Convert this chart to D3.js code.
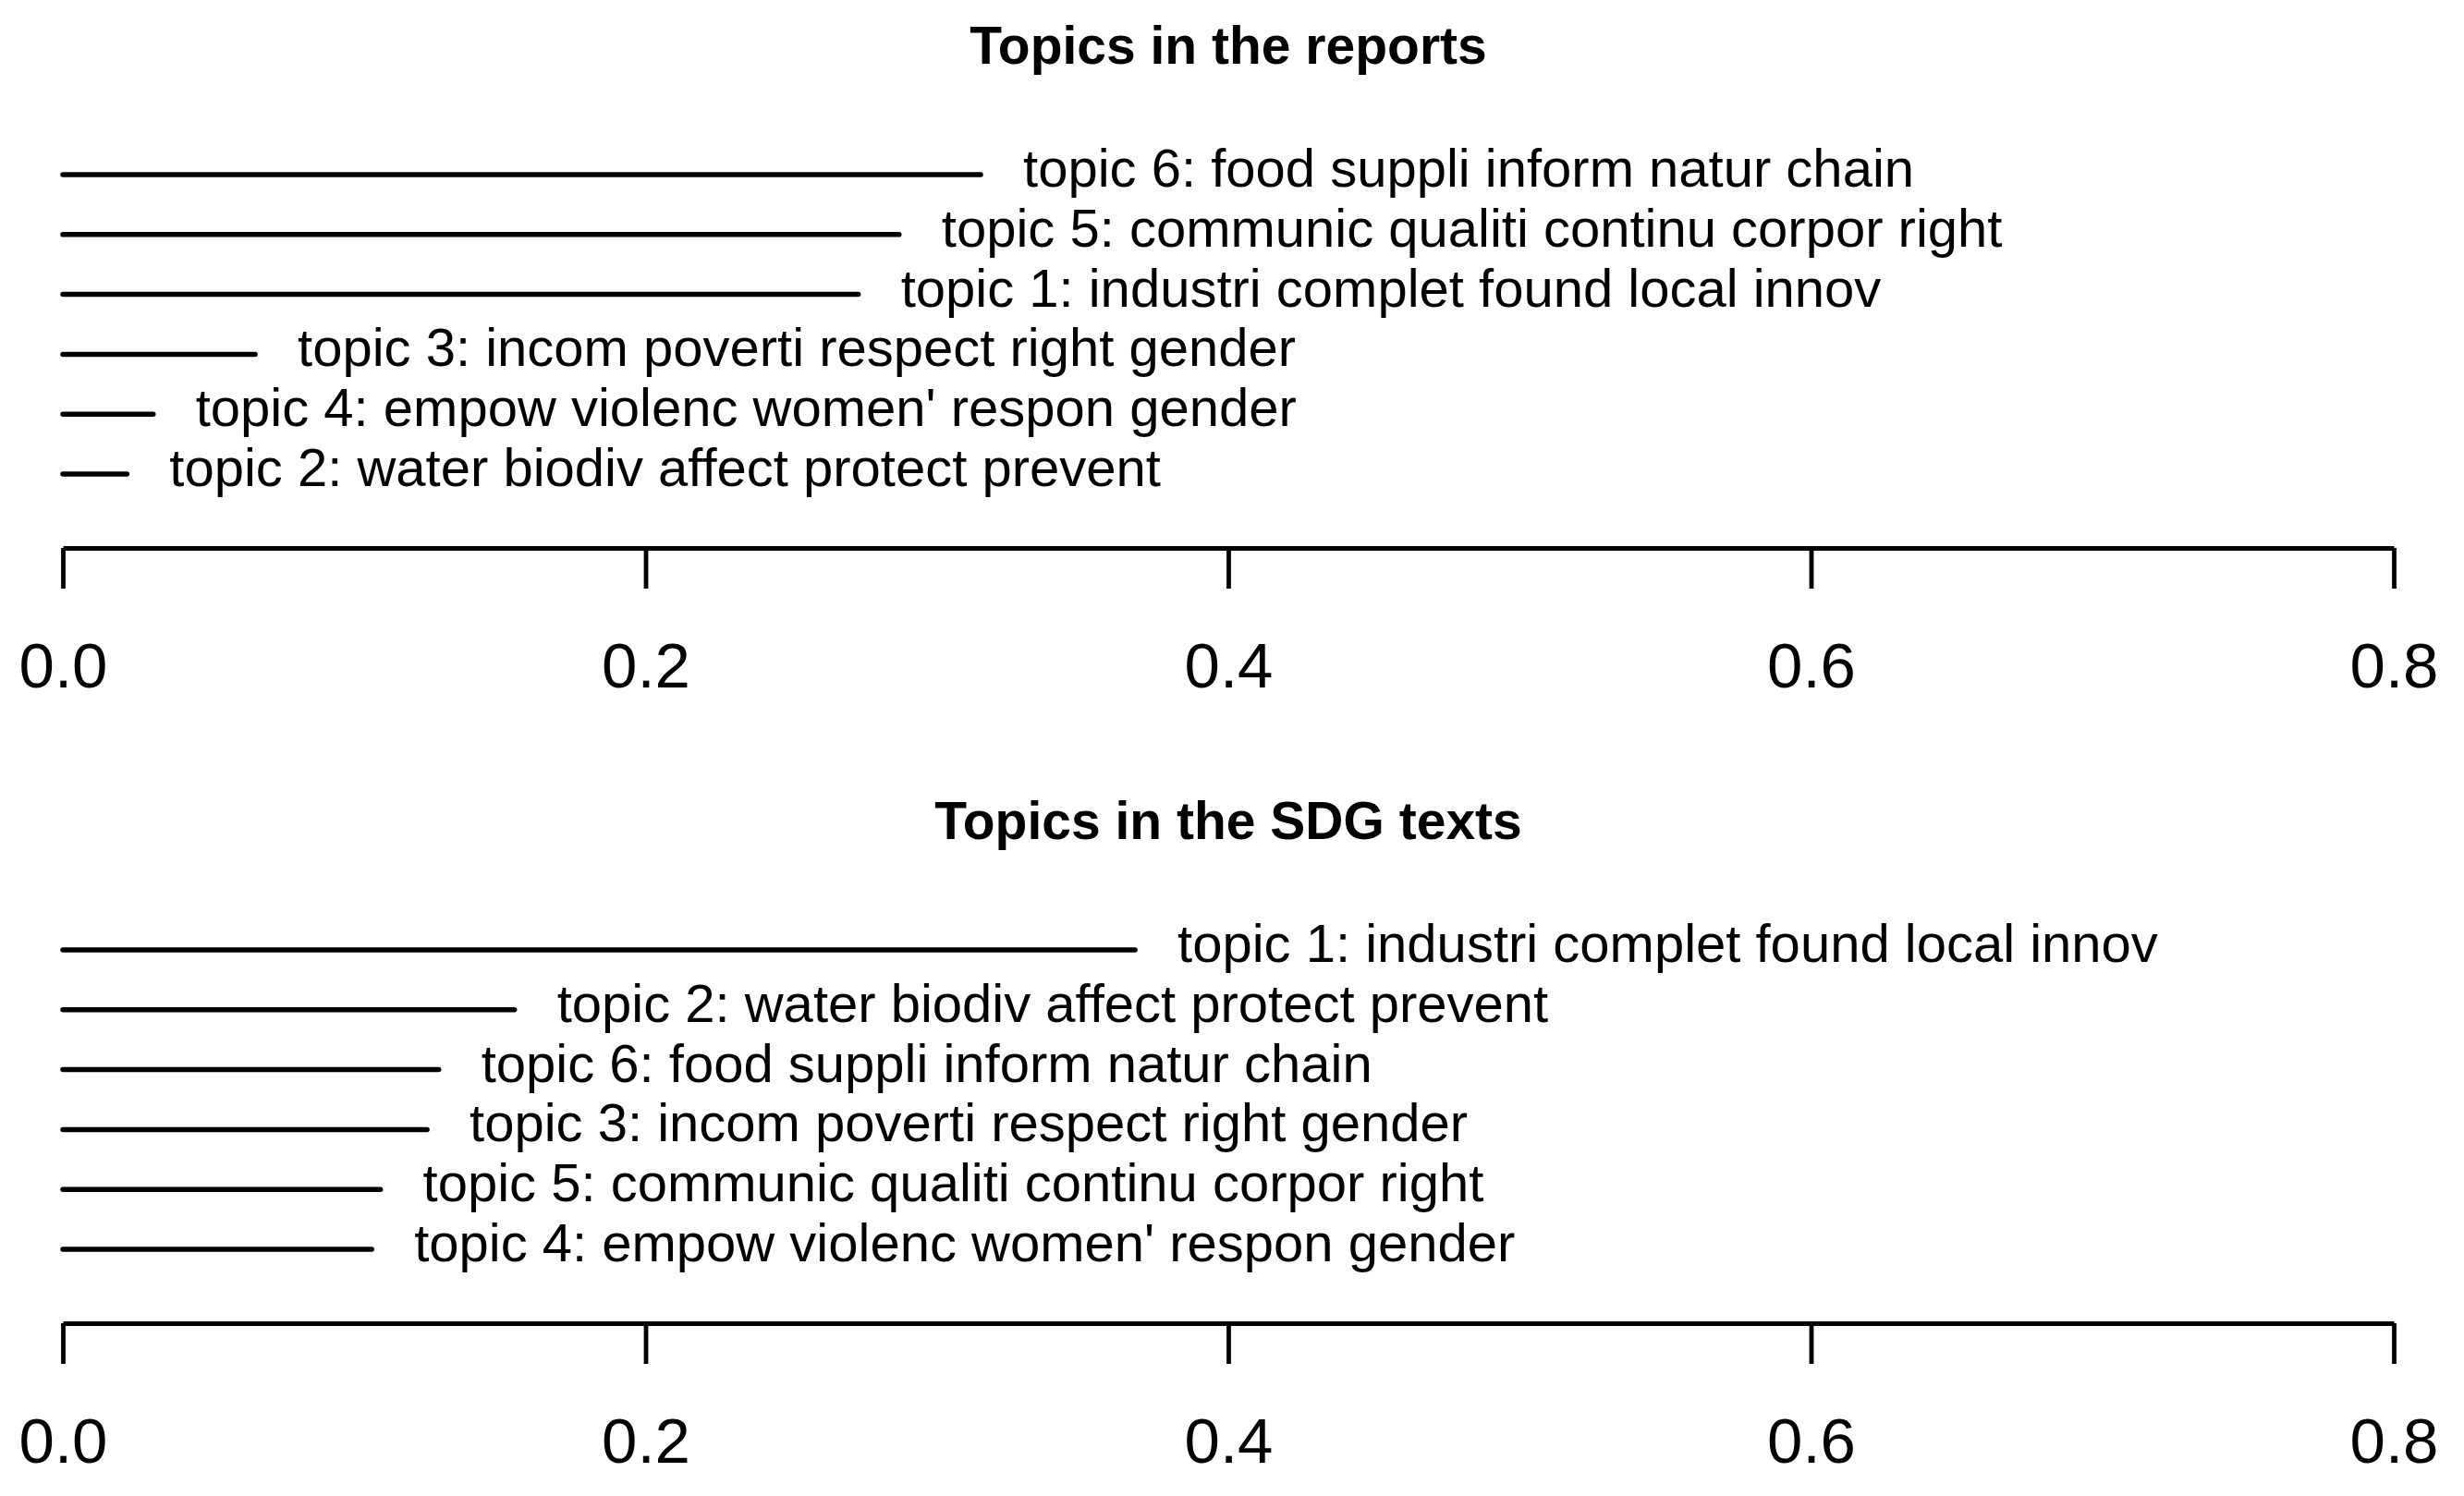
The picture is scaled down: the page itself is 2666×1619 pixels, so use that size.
<!DOCTYPE html>
<meta charset="utf-8">
<style>
body { margin: 0; background: #fff; }
svg text { font-family: "Liberation Sans", Arial, sans-serif; fill: #000; }
.axis path, .axis line { stroke: #000; stroke-width: 4.8px; fill: none; }
.axis text { font-size: 69px; }
.seg { stroke: #000; stroke-width: 5.5px; stroke-linecap: round; }
.lab { font-size: 58px; }
.title { font-size: 57px; font-weight: bold; }
</style>
<body>
<div id="chart"></div>
<script src="https://d3js.org/d3.v7.min.js"></script>
<script>

// topic proportions (sorted as plotted, top to bottom)
var reportTopics = ["topic 6: food suppli inform natur chain",
                    "topic 5: communic qualiti continu corpor right",
                    "topic 1: industri complet found local innov",
                    "topic 3: incom poverti respect right gender",
                    "topic 4: empow violenc women' respon gender",
                    "topic 2: water biodiv affect protect prevent"];
var reportValues = [0.315, 0.287, 0.273, 0.066, 0.031, 0.022];

var sdgTopics = ["topic 1: industri complet found local innov",
                 "topic 2: water biodiv affect protect prevent",
                 "topic 6: food suppli inform natur chain",
                 "topic 3: incom poverti respect right gender",
                 "topic 5: communic qualiti continu corpor right",
                 "topic 4: empow violenc women' respon gender"];
var sdgValues = [0.368, 0.155, 0.129, 0.125, 0.109, 0.106];

var titles = ["Topics in the reports", "Topics in the SDG texts"];
var xTicks = [0, 0.2, 0.4, 0.6, 0.8];

var width = 2666, height = 1619;

var svg = d3.select("#chart").append("svg")
    .attr("width", width)
    .attr("height", height);

var x = d3.scaleLinear()
    .domain([0, 0.8])
    .range([68, 2590]);

function panel(top, topics, values, title) {
    var g = svg.append("g").attr("transform", "translate(0," + top + ")");

    var y = d3.scalePoint()
        .domain(topics)
        .range([189, 513]);

    g.append("text")
        .attr("class", "title")
        .attr("x", (x.range()[0] + x.range()[1]) / 2)
        .attr("y", 69)
        .attr("text-anchor", "middle")
        .text(title);

    var rows = topics.map(function(t, i) { return {topic: t, value: values[i]}; });

    g.selectAll(".seg")
        .data(rows)
        .enter().append("line")
        .attr("class", "seg")
        .attr("x1", x(0))
        .attr("x2", d => x(d.value))
        .attr("y1", d => y(d.topic))
        .attr("y2", d => y(d.topic));

    g.selectAll(".lab")
        .data(rows)
        .enter().append("text")
        .attr("class", "lab")
        .attr("x", d => x(d.value) + 46)
        .attr("y", d => y(d.topic) + 13)
        .text(d => d.topic);

    g.append("g")
        .attr("class", "axis")
        .attr("transform", "translate(0,593)")
        .call(d3.axisBottom(x)
            .tickValues(xTicks)
            .tickFormat(d3.format(".1f"))
            .tickSize(44)
            .tickSizeOuter(0)
            .tickPadding(58))
        .call(a => a.selectAll("text").attr("font-family", null).attr("font-size", null));
}

panel(0, reportTopics, reportValues, titles[0]);
panel(839, sdgTopics, sdgValues, titles[1]);

</script>
</body>
